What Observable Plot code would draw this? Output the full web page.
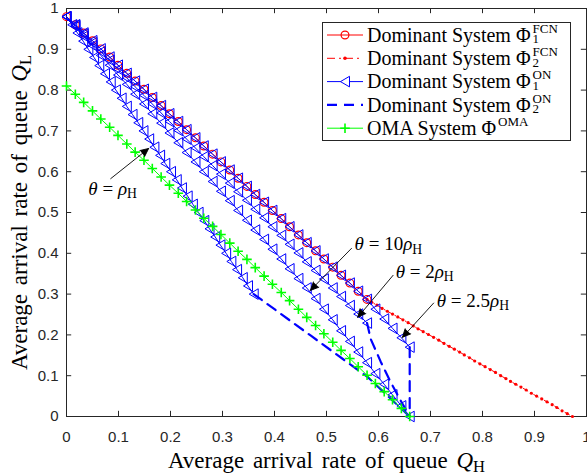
<!DOCTYPE html>
<html>
<head>
<meta charset="utf-8">
<script src="https://cdn.jsdelivr.net/npm/d3@7"></script>
<script src="https://cdn.jsdelivr.net/npm/@observablehq/plot@0.6"></script>
<style>
  html, body { margin: 0; padding: 0; background: #fff; overflow: hidden; }
  #wrap { position: relative; width: 587px; height: 476px; }
</style>
</head>
<body>
<div id="wrap"></div>
<script>
// ---------------- data ----------------
const xTicks = [0, 0.1, 0.2, 0.3, 0.4, 0.5, 0.6, 0.7, 0.8, 0.9, 1];
const yTicks = [0, 0.1, 0.2, 0.3, 0.4, 0.5, 0.6, 0.7, 0.8, 0.9, 1];

// common sampling of the arrival rate of Q_H
const xGrid = [0, 0.017, 0.033, 0.050, 0.066, 0.083, 0.099, 0.116, 0.132, 0.149, 0.165,
  0.182, 0.198, 0.215, 0.231, 0.248, 0.264, 0.281, 0.297, 0.314, 0.330, 0.347, 0.363,
  0.380, 0.396, 0.413, 0.429, 0.446, 0.462, 0.479, 0.495, 0.512, 0.528, 0.545, 0.561,
  0.578, 0.594, 0.611, 0.627, 0.644, 0.660];

// Dominant System Phi_1^FCN
const fcn1Y = [0.980, 0.960, 0.940, 0.921, 0.901, 0.881, 0.861, 0.841, 0.822, 0.802, 0.782,
  0.762, 0.742, 0.723, 0.703, 0.683, 0.663, 0.643, 0.624, 0.604, 0.584, 0.564, 0.544,
  0.525, 0.505, 0.485, 0.465, 0.445, 0.426, 0.406, 0.386, 0.366, 0.346, 0.327, 0.307, 0.287];

// Dominant System Phi_2^FCN
const fcn2X = [0.578, 0.587, 0.597, 0.607, 0.617, 0.627, 0.637, 0.647, 0.657, 0.667, 0.676,
  0.686, 0.696, 0.706, 0.716, 0.726, 0.736, 0.746, 0.756, 0.765, 0.775, 0.785, 0.795,
  0.805, 0.815, 0.825, 0.835, 0.845, 0.854, 0.864, 0.874, 0.884, 0.894, 0.904, 0.914,
  0.924, 0.934, 0.943, 0.953, 0.963, 0.973];
const fcn2Y = [0.287, 0.280, 0.273, 0.265, 0.258, 0.251, 0.244, 0.237, 0.230, 0.222, 0.215,
  0.208, 0.201, 0.194, 0.187, 0.179, 0.172, 0.165, 0.158, 0.151, 0.144, 0.136, 0.129,
  0.122, 0.115, 0.108, 0.100, 0.093, 0.086, 0.079, 0.072, 0.065, 0.057, 0.050, 0.043,
  0.036, 0.029, 0.022, 0.014, 0.007, 0.000];

// Dominant System Phi_1^ON for several theta
const on1Y_25 = [0.980, 0.960, 0.940, 0.921, 0.901, 0.881, 0.861, 0.841, 0.822, 0.802, 0.782,
  0.762, 0.742, 0.723, 0.703, 0.683, 0.663, 0.643, 0.624, 0.604, 0.584, 0.564, 0.544,
  0.525, 0.505, 0.485, 0.465, 0.445, 0.426, 0.406, 0.386, 0.366, 0.346, 0.327, 0.307,
  0.287, 0.263, 0.239, 0.216, 0.193, 0.170];
const on1Y_2 = [0.980, 0.959, 0.937, 0.916, 0.894, 0.873, 0.851, 0.830, 0.808, 0.787, 0.766,
  0.744, 0.723, 0.701, 0.680, 0.658, 0.637, 0.615, 0.594, 0.572, 0.551, 0.530, 0.508,
  0.487, 0.465, 0.444, 0.422, 0.401, 0.379, 0.358, 0.337, 0.315, 0.294, 0.272, 0.251, 0.229];
const on1Y_10 = [0.980, 0.956, 0.932, 0.909, 0.885, 0.861, 0.837, 0.814, 0.790, 0.766, 0.742,
  0.719, 0.695, 0.671, 0.647, 0.624, 0.600, 0.576, 0.552, 0.529, 0.505, 0.481, 0.457,
  0.434, 0.410, 0.386, 0.362, 0.338, 0.315, 0.289, 0.263, 0.237, 0.210, 0.184, 0.158,
  0.132, 0.105, 0.079, 0.053, 0.026, 0.000];
const on1X_1 = [0, 0.011, 0.021, 0.032, 0.042, 0.053, 0.063, 0.074, 0.085, 0.095, 0.106,
  0.116, 0.127, 0.138, 0.148, 0.159, 0.169, 0.180, 0.190, 0.201, 0.212, 0.222, 0.233,
  0.243, 0.254, 0.265, 0.275, 0.286, 0.296, 0.307, 0.317, 0.328, 0.339, 0.349, 0.360];
const on1Y_1 = [0.98, 0.96, 0.94, 0.92, 0.90, 0.88, 0.86, 0.84, 0.82, 0.80, 0.78, 0.76, 0.74,
  0.72, 0.70, 0.68, 0.66, 0.64, 0.62, 0.60, 0.58, 0.56, 0.54, 0.52, 0.50, 0.48, 0.46,
  0.44, 0.42, 0.40, 0.38, 0.36, 0.34, 0.32, 0.30];

// Dominant System Phi_2^ON (dashed parts)
const on2X_1 = [0.360, 0.470, 0.580, 0.620, 0.660];
const on2Y_1 = [0.300, 0.198, 0.096, 0.048, 0.000];
const on2X_2 = [0.578, 0.585, 0.604, 0.623, 0.640, 0.660];
const on2Y_2 = [0.229, 0.190, 0.135, 0.085, 0.045, 0.000];
const on2X_25 = [0.660, 0.660];
const on2Y_25 = [0.170, 0.000];

// OMA System
const omaY = [0.810, 0.790, 0.770, 0.749, 0.729, 0.709, 0.689, 0.668, 0.648, 0.628, 0.608,
  0.587, 0.567, 0.547, 0.527, 0.506, 0.486, 0.466, 0.446, 0.425, 0.405, 0.385, 0.365,
  0.344, 0.324, 0.304, 0.284, 0.263, 0.243, 0.223, 0.203, 0.182, 0.162, 0.142, 0.122,
  0.101, 0.081, 0.061, 0.041, 0.020, 0.000];

// annotation labels and where they point
const annLabels = ["θ = ρ_H", "θ = 10ρ_H", "θ = 2ρ_H", "θ = 2.5ρ_H"];
const annTextX = [0.042, 0.554, 0.633, 0.712];
const annTextY = [0.559, 0.422, 0.355, 0.284];
const annFromX = [0.085, 0.548, 0.628, 0.706];
const annFromY = [0.583, 0.412, 0.346, 0.278];
const annToX = [0.158, 0.469, 0.560, 0.646];
const annToY = [0.657, 0.309, 0.243, 0.194];

const legendNames = ["Dominant System Φ", "Dominant System Φ", "Dominant System Φ", "Dominant System Φ", "OMA System Φ"];
const legendSup = ["FCN", "FCN", "ON", "ON", "OMA"];
const legendSub = ["1", "2", "1", "2", ""];

const xLabel = "Average arrival rate of queue Q_H";
const yLabel = "Average arrival rate of queue Q_L";

// ---------------- build tables ----------------
const pts = (xs, ys, key) => ys.map((y, i) => ({x: xs[i], y, key}));
const fcn1 = pts(xGrid, fcn1Y, "fcn1");
const fcn2 = pts(fcn2X, fcn2Y, "fcn2");
const on1 = [
  ...pts(xGrid, on1Y_25, "2.5"),
  ...pts(xGrid, on1Y_2, "2"),
  ...pts(xGrid, on1Y_10, "10"),
  ...pts(on1X_1, on1Y_1, "1")
];
const on2 = [
  ...pts(on2X_1, on2Y_1, "1"),
  ...pts(on2X_2, on2Y_2, "2"),
  ...pts(on2X_25, on2Y_25, "2.5")
];
const oma = pts(xGrid, omaY, "oma");
const ann = annLabels.map((label, i) => ({
  label, tx: annTextX[i], ty: annTextY[i],
  x1: annFromX[i], y1: annFromY[i], x2: annToX[i], y2: annToY[i]
}));

// custom symbols
const triLeft = {draw(ctx, size) {
  const r = Math.sqrt(size / Math.PI);
  ctx.moveTo(-0.85 * r, 0); ctx.lineTo(0.85 * r, -r); ctx.lineTo(0.85 * r, r); ctx.closePath();
}};
const plusSym = {draw(ctx, size) {
  const r = Math.sqrt(size / Math.PI);
  ctx.moveTo(-r, 0); ctx.lineTo(r, 0); ctx.moveTo(0, -r); ctx.lineTo(0, r);
}};

const RED = "#ff0000", BLUE = "#0000ff", GREEN = "#00ff00", AX = "#262626";
const SERIF = "'Liberation Serif', 'Times New Roman', serif";
const tickLenY = 0.0127, tickLenX = 0.01;

const chart = Plot.plot({
  width: 587,
  height: 476,
  marginLeft: 66,
  marginRight: 1,
  marginTop: 8,
  marginBottom: 60,
  style: {fontFamily: "'Liberation Sans', Arial, sans-serif", fontSize: "15px", color: AX, background: "white"},
  x: {domain: [0, 1], ticks: xTicks, tickFormat: d => String(d), tickSize: 0, tickPadding: 15, label: null},
  y: {domain: [0, 1], ticks: yTicks, tickFormat: d => String(d), tickSize: 0, tickPadding: 8, label: null},
  marks: [
    Plot.frame({stroke: AX}),
    Plot.ruleX(xTicks, {x: d => d, y1: 0, y2: tickLenY, stroke: AX}),
    Plot.ruleX(xTicks, {x: d => d, y1: 1 - tickLenY, y2: 1, stroke: AX}),
    Plot.ruleY(yTicks, {y: d => d, x1: 0, x2: tickLenX, stroke: AX}),
    Plot.ruleY(yTicks, {y: d => d, x1: 1 - tickLenX, x2: 1, stroke: AX}),

    Plot.line(fcn1, {x: "x", y: "y", stroke: RED, strokeWidth: 1}),
    Plot.dot(fcn1, {x: "x", y: "y", symbol: "circle", r: 3.9, stroke: RED, fill: "none", strokeWidth: 1.2}),

    Plot.line(fcn2, {x: "x", y: "y", stroke: RED, strokeWidth: 1, strokeDasharray: "5,3,1,3"}),
    Plot.dot(fcn2, {x: "x", y: "y", r: 1.6, fill: RED, stroke: "none"}),

    Plot.line(on1, {x: "x", y: "y", z: "key", stroke: BLUE, strokeWidth: 1}),
    Plot.dot(on1, {x: "x", y: "y", symbol: triLeft, r: 5.3, stroke: BLUE, fill: "none", strokeWidth: 1}),

    Plot.line(on2, {x: "x", y: "y", z: "key", stroke: BLUE, strokeWidth: 2.2, strokeDasharray: "10,7"}),

    Plot.line(oma, {x: "x", y: "y", stroke: GREEN, strokeWidth: 1}),
    Plot.dot(oma, {x: "x", y: "y", symbol: plusSym, r: 4.8, stroke: GREEN, fill: "none", strokeWidth: 1.6}),

    Plot.arrow(ann, {x1: "x1", y1: "y1", x2: "x2", y2: "y2", stroke: "black", fill: "black",
      strokeWidth: 0.9, headLength: 15, headAngle: 50}),
    Plot.text(ann, {x: "tx", y: "ty", text: "label", textAnchor: "start", fontSize: 19,
      fontFamily: SERIF, fill: "black"}),

    Plot.text([xLabel], {text: d => d, frameAnchor: "bottom", dy: 44, fontSize: 23,
      textAnchor: "middle", lineAnchor: "middle", fontWeight: "normal",
      fontFamily: SERIF, fill: "black"}),
    Plot.text([yLabel], {text: d => d, frameAnchor: "left", dx: -47, rotate: -90, fontSize: 23,
      textAnchor: "middle", lineAnchor: "middle", fontWeight: "normal",
      fontFamily: SERIF, fill: "black"})
  ]
});

const wrap = document.getElementById("wrap");
wrap.appendChild(chart);

// rich text: italic θ, ρ, Q and subscripts after "_"
const NS = "http://www.w3.org/2000/svg";
function richify(el) {
  const s = el.textContent;
  const k = s.indexOf("_");
  if (k < 0) return;
  const main = s.slice(0, k), sub = s.slice(k + 1);
  el.textContent = "";
  let buf = "";
  const flush = () => { if (buf) { el.appendChild(document.createTextNode(buf)); buf = ""; } };
  for (const ch of main) {
    if ("θρQ".includes(ch)) {
      flush();
      const t = document.createElementNS(NS, "tspan");
      t.setAttribute("font-style", "italic");
      t.textContent = ch;
      el.appendChild(t);
    } else buf += ch;
  }
  flush();
  const t = document.createElementNS(NS, "tspan");
  t.setAttribute("dy", "0.25em");
  t.setAttribute("font-size", "0.72em");
  t.textContent = sub;
  el.appendChild(t);
}
chart.querySelectorAll("text").forEach(el => {
  const isAxisLabel = el.textContent.startsWith("Average");
  richify(el);
  if (isAxisLabel) el.setAttribute("word-spacing", "3");
});

// legend (inside the axes, top right)
const lg = d3.select(wrap).append("svg")
  .attr("width", 251).attr("height", 121)
  .style("position", "absolute").style("left", "322px").style("top", "22px")
  .style("font-family", SERIF);
lg.append("rect").attr("x", 0.5).attr("y", 0.5).attr("width", 248).attr("height", 118)
  .attr("fill", "white").attr("stroke", AX);
const rowH = 23.3, row0 = 13;
legendNames.forEach((name, i) => {
  const cy = row0 + i * rowH;
  const g = lg.append("g");
  if (i === 0) {
    g.append("line").attr("x1", 5).attr("x2", 41).attr("y1", cy).attr("y2", cy).attr("stroke", RED);
    g.append("circle").attr("cx", 23).attr("cy", cy).attr("r", 3.9).attr("fill", "none").attr("stroke", RED).attr("stroke-width", 1.2);
  } else if (i === 1) {
    g.append("line").attr("x1", 5).attr("x2", 41).attr("y1", cy).attr("y2", cy).attr("stroke", RED)
      .attr("stroke-dasharray", "8,4,2,4");
    g.append("circle").attr("cx", 23).attr("cy", cy).attr("r", 1.8).attr("fill", RED);
  } else if (i === 2) {
    g.append("line").attr("x1", 5).attr("x2", 41).attr("y1", cy).attr("y2", cy).attr("stroke", BLUE);
    g.append("path").attr("transform", `translate(23,${cy})`)
      .attr("d", d3.symbol().type(triLeft).size(Math.PI * 5.3 * 5.3)())
      .attr("fill", "white").attr("stroke", BLUE);
  } else if (i === 3) {
    g.append("line").attr("x1", 5).attr("x2", 41).attr("y1", cy).attr("y2", cy).attr("stroke", BLUE)
      .attr("stroke-width", 2.4).attr("stroke-dasharray", "10,7");
  } else {
    g.append("line").attr("x1", 5).attr("x2", 41).attr("y1", cy).attr("y2", cy).attr("stroke", GREEN);
    g.append("path").attr("transform", `translate(23,${cy})`)
      .attr("d", d3.symbol().type(plusSym).size(Math.PI * 4.8 * 4.8)())
      .attr("fill", "none").attr("stroke", GREEN).attr("stroke-width", 1.6);
  }
  const base = cy + 6.7;
  const t = g.append("text").attr("x", 45).attr("y", base).attr("font-size", 20).attr("fill", "black");
  t.append("tspan").text(name);
  const len = t.node().getComputedTextLength();
  const sx = 45 + len + 2;
  t.append("tspan").attr("x", sx).attr("y", base - 9).attr("font-size", 13).text(legendSup[i]);
  if (legendSub[i]) t.append("tspan").attr("x", sx).attr("y", base + 1.5).attr("font-size", 13).text(legendSub[i]);
});
</script>
</body>
</html>
